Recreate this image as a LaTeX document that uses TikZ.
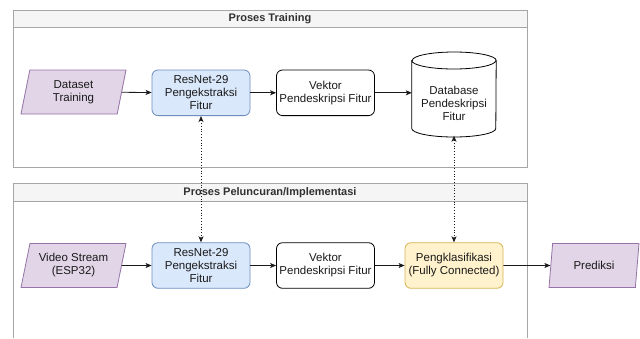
\documentclass[tikz,border=0pt]{standalone}
\usepackage{fontspec}
\setmainfont{Liberation Sans}
\usetikzlibrary{arrows.meta,shapes.geometric}
\definecolor{hdrfill}{HTML}{F5F5F5}
\definecolor{contline}{HTML}{A6A6A6}
\definecolor{bluefill}{HTML}{DAE8FC}
\definecolor{blueline}{HTML}{6C8EBF}
\definecolor{yelfill}{HTML}{FFF2CC}
\definecolor{yelline}{HTML}{D6B656}
\definecolor{purfill}{HTML}{E1D5E7}
\definecolor{purline}{HTML}{9673A6}
\definecolor{txt}{HTML}{1A1A1A}
\tikzset{
  cont/.style={draw=contline, line width=0.9pt},
  hdrtext/.style={font=\fontsize{11}{13}\selectfont\bfseries, text=txt!90!white, inner sep=0pt},
  body/.style={font=\fontsize{11.5}{13}\selectfont, text=txt, align=center},
  procbox/.style={body, draw, rounded corners=6pt, minimum width=98pt, minimum height=45.6pt, inner sep=1pt, line width=0.8pt},
  bluebox/.style={procbox, draw=blueline, fill=bluefill},
  yelbox/.style={procbox, draw=yelline, fill=yelfill},
  whitebox/.style={procbox, draw=black, fill=white},
  iobox/.style={body, trapezium, trapezium left angle=70.8, trapezium right angle=109.2, trapezium stretches body, draw=purline, fill=purfill, minimum height=44pt, inner sep=1pt, line width=0.8pt},
  flow/.style={draw=txt, line width=0.8pt, -{Stealth[length=6pt,width=5pt,inset=1.5pt]}},
  link/.style={draw=txt, line width=0.8pt, dotted, {Stealth[length=6pt,width=5pt,inset=1.5pt]}-{Stealth[length=6pt,width=5pt,inset=1.5pt]}}
}
\begin{document}
\begin{tikzpicture}[x=1pt,y=-1pt]
\useasboundingbox (0,0) rectangle (640,338);
% containers
\draw[cont, fill=white] (13,10) rectangle (527,167.5);
\draw[cont, fill=hdrfill] (13,10) rectangle (527,27.5);
\node[hdrtext] (h1) at (270,19) {Proses Training};
\draw[cont] (13,338) -- (13,183.5) -- (527,183.5) -- (527,338);
\draw[cont, fill=hdrfill] (13,183.5) rectangle (527,201);
\node[hdrtext] (h2) at (270,192.5) {Proses Peluncuran/Implementasi};
% top row
\node[iobox, minimum width=105pt] (dt) at (73.5,92) {Dataset\\Training};
\node[bluebox] (r1) at (201,92.8) {ResNet-29\\Pengekstraksi\\Fitur};
\node[whitebox] (v1) at (325.5,92.8) {Vektor\\Pendeskripsi Fitur};
\node[minimum width=84pt, minimum height=85pt, inner sep=0pt] (db) at (454,94.5) {};
\draw[line width=0.8pt, fill=white] (db.west |- 0,60.5) -- (db.west |- 0,128.5)
  arc[start angle=180, end angle=0, x radius=42, y radius=8.5]
  -- (db.east |- 0,60.5)
  arc[start angle=0, end angle=-180, x radius=42, y radius=8.5] -- cycle;
\draw[line width=0.8pt] (db.west |- 0,60.5) arc[start angle=180, end angle=0, x radius=42, y radius=8.5];
\node[body] (dbt) at (454,103.5) {Database\\Pendeskripsi\\Fitur};
% bottom row
\node[iobox, minimum width=105pt] (vs) at (73.5,265.5) {Video Stream\\(ESP32)};
\node[bluebox] (r2) at (201,265.5) {ResNet-29\\Pengekstraksi\\Fitur};
\node[whitebox] (v2) at (325.5,265.5) {Vektor\\Pendeskripsi Fitur};
\node[yelbox] (pk) at (454,265.5) {Pengklasifikasi\\(Fully Connected)};
\node[iobox, minimum width=90pt] (pr) at (594,265.5) {Prediksi};
% connectors
\draw[flow] (dt) -- (r1);
\draw[flow] (r1) -- (v1);
\draw[flow] (v1.east) -- (v1.east -| db.west);
\draw[flow] (vs) -- (r2);
\draw[flow] (r2) -- (v2);
\draw[flow] (v2) -- (pk);
\draw[flow] (pk) -- (pr);
\draw[link] (r1.south) -- (r2.north);
\draw[link] ([yshift=1.5pt]db.south) -- (pk.north);
\end{tikzpicture}
\end{document}
